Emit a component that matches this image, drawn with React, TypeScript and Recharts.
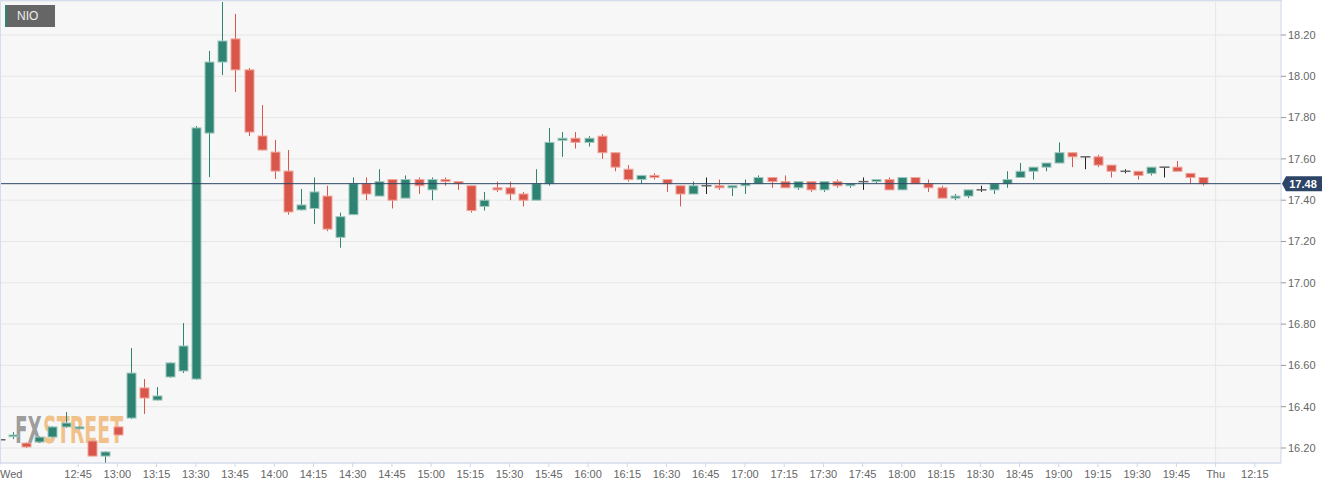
import { ComposedChart, Bar, XAxis, YAxis, CartesianGrid, ReferenceLine } from 'recharts'

// NIO 5-minute candles, Wed 12:15 -> 19:55 (one slot per candle)
const openP = [
  16.24, 16.255, 16.224, 16.229, 16.253, 16.302, 16.293, 16.234, 16.161, 16.302, 16.345, 16.491,
  16.432, 16.544, 16.573, 16.534, 17.725, 18.069, 18.181, 18.031, 17.711, 17.633, 17.541, 17.353,
  17.36, 17.42, 17.22, 17.33, 17.48, 17.42, 17.5, 17.41, 17.5, 17.45, 17.5, 17.49,
  17.47, 17.37, 17.46, 17.46, 17.43, 17.4, 17.48, 17.69, 17.7, 17.68, 17.71, 17.63,
  17.55, 17.5, 17.52, 17.5, 17.47, 17.43, 17.47, 17.47, 17.46, 17.47, 17.48, 17.51,
  17.49, 17.46, 17.49, 17.45, 17.49, 17.47, 17.49, 17.49, 17.5, 17.45, 17.51, 17.48,
  17.46, 17.41, 17.42, 17.45, 17.45, 17.48, 17.51, 17.54, 17.56, 17.58, 17.63, 17.61,
  17.61, 17.57, 17.54, 17.54, 17.53, 17.56, 17.56, 17.53, 17.51,
]
const highP = [
  16.245, 16.277, 16.226, 16.256, 16.305, 16.374, 16.305, 16.236, 16.185, 16.305, 16.684, 16.534,
  16.495, 16.615, 16.805, 17.759, 18.123, 18.36, 18.302, 18.04, 17.861, 17.692, 17.643, 17.454,
  17.51, 17.47, 17.34, 17.51, 17.51, 17.55, 17.5, 17.52, 17.51, 17.51, 17.51, 17.49,
  17.47, 17.44, 17.49, 17.49, 17.44, 17.55, 17.75, 17.73, 17.73, 17.71, 17.72, 17.63,
  17.57, 17.52, 17.53, 17.5, 17.47, 17.49, 17.51, 17.5, 17.47, 17.5, 17.52, 17.51,
  17.52, 17.49, 17.49, 17.49, 17.5, 17.48, 17.51, 17.5, 17.51, 17.51, 17.51, 17.5,
  17.47, 17.43, 17.45, 17.47, 17.48, 17.54, 17.58, 17.56, 17.58, 17.68, 17.63, 17.61,
  17.62, 17.57, 17.55, 17.54, 17.56, 17.56, 17.59, 17.53, 17.51,
]
const lowP = [
  16.235, 16.243, 16.2, 16.226, 16.25, 16.297, 16.29, 16.16, 16.127, 16.26, 16.34, 16.365,
  16.43, 16.54, 16.563, 16.53, 17.512, 18.006, 17.924, 17.711, 17.64, 17.503, 17.33, 17.35,
  17.285, 17.25, 17.17, 17.33, 17.4, 17.42, 17.36, 17.41, 17.43, 17.4, 17.47, 17.45,
  17.34, 17.35, 17.44, 17.4, 17.37, 17.4, 17.47, 17.61, 17.65, 17.66, 17.6, 17.54,
  17.49, 17.48, 17.5, 17.44, 17.37, 17.43, 17.43, 17.45, 17.42, 17.43, 17.48, 17.46,
  17.46, 17.45, 17.44, 17.44, 17.46, 17.46, 17.45, 17.48, 17.45, 17.45, 17.48, 17.44,
  17.41, 17.4, 17.41, 17.44, 17.43, 17.46, 17.51, 17.5, 17.54, 17.58, 17.56, 17.55,
  17.56, 17.51, 17.53, 17.5, 17.52, 17.51, 17.54, 17.48, 17.47,
]
const closeP = [
  16.24, 16.263, 16.205, 16.253, 16.302, 16.321, 16.302, 16.161, 16.181, 16.263, 16.563, 16.442,
  16.452, 16.612, 16.694, 17.75, 18.069, 18.171, 18.031, 17.73, 17.643, 17.541, 17.343, 17.377,
  17.44, 17.26, 17.32, 17.48, 17.43, 17.49, 17.4, 17.5, 17.47, 17.5, 17.49, 17.48,
  17.35, 17.4, 17.45, 17.43, 17.4, 17.48, 17.68, 17.7, 17.68, 17.7, 17.63, 17.56,
  17.5, 17.52, 17.51, 17.48, 17.43, 17.47, 17.47, 17.46, 17.47, 17.48, 17.51, 17.49,
  17.46, 17.49, 17.45, 17.49, 17.47, 17.48, 17.49, 17.5, 17.45, 17.51, 17.48, 17.46,
  17.41, 17.42, 17.45, 17.45, 17.48, 17.5, 17.54, 17.56, 17.58, 17.63, 17.61, 17.61,
  17.57, 17.54, 17.54, 17.52, 17.56, 17.56, 17.54, 17.51, 17.48,
]

const tickIdx = [0, 6, 9, 12, 15, 18, 21, 24, 27, 30, 33, 36, 39, 42, 45, 48, 51, 54, 57, 60, 63, 66, 69, 72, 75, 78, 81, 84, 87, 90, 93, 96]
const tickLabels = [
  'Wed', '12:45', '13:00', '13:15', '13:30', '13:45', '14:00', '14:15', '14:30', '14:45', '15:00',
  '15:15', '15:30', '15:45', '16:00', '16:15', '16:30', '16:45', '17:00', '17:15', '17:30', '17:45',
  '18:00', '18:15', '18:30', '18:45', '19:00', '19:15', '19:30', '19:45', 'Thu', '12:15',
]
const priceTicks = [16.2, 16.4, 16.6, 16.8, 17.0, 17.2, 17.4, 17.6, 17.8, 18.0, 18.2]
const lastPrice = 17.48
const dayBreak = 93

const UP = '#2f8372'
const DOWN = '#d8574a'
const FONT = '"Liberation Sans", Arial, sans-serif'
const MARK = '"DejaVu Sans", sans-serif'

const candles = openP.map((o, i) => ({
  i,
  o,
  h: highP[i],
  l: lowP[i],
  c: closeP[i],
  range: [lowP[i], highP[i]],
}))

function Candle(props: any) {
  const { x, y, width, height, payload } = props
  if (x == null || y == null) return null
  const { o, h, l, c } = payload
  const cx = Math.round(x + width / 2) + 0.5
  const top = Math.min(y, y + height)
  const bot = Math.max(y, y + height)
  const py = (v: number) => (h === l ? top : top + ((h - v) / (h - l)) * (bot - top))
  const doji = o === c
  const color = doji ? '#222' : c > o ? UP : DOWN
  const edge = doji ? '#777' : c > o ? '#9fc8be' : '#f0a59c'
  const bTop = py(Math.max(o, c))
  const bH = Math.max(1.5, py(Math.min(o, c)) - bTop)
  return (
    <g>
      <line x1={cx} x2={cx} y1={top} y2={bot} stroke={color} strokeWidth={1} />
      {doji ? (
        <rect x={cx - 5} y={bTop - 0.75} width={10} height={1.5} fill="#666" />
      ) : (
        <rect x={cx - 4.5} y={bTop} width={9} height={bH} fill={color} stroke={edge} strokeWidth={1} />
      )}
    </g>
  )
}

function TimeTick(props: any) {
  const { x, y, payload } = props
  const k = tickIdx.indexOf(payload.value)
  const first = payload.value === 0
  return (
    <text x={first ? 0 : x} y={y} dy="0.71em" textAnchor={first ? 'start' : 'middle'} fill="#666" fontSize={11} fontFamily={FONT}>
      {k >= 0 ? tickLabels[k] : ''}
    </text>
  )
}

function LastLabel(props: any) {
  const vb = props.viewBox || {}
  const r = vb.x + vb.width
  const y = vb.y
  return (
    <g>
      <path d={`M${r + 1},${y} L${r + 5},${y - 7.5} L${r + 41},${y - 7.5} L${r + 41},${y + 7.5} L${r + 5},${y + 7.5} Z`} fill="#2c4566" />
      <text x={r + 22} y={y} dy="0.36em" textAnchor="middle" fill="#fff" fontSize={11} fontWeight="bold" fontFamily={FONT}>
        {lastPrice.toFixed(2)}
      </text>
    </g>
  )
}

export default function App() {
  return (
    <div style={{ position: 'absolute', left: 0, top: 0, width: 1340, height: 489, background: '#fff', overflow: 'hidden' }}>
      {/* plot background, then the watermark, both behind the chart */}
      <div style={{ position: 'absolute', left: 1, top: 1, width: 1280, height: 462, background: '#f7f7f7' }} />
      <svg width={200} height={60} style={{ position: 'absolute', left: 0, top: 400 }}>
        <text transform="translate(15,43) scale(0.485,1)" fontSize={38} fontWeight="bold" fontFamily={MARK} fill="#8d8d8d" fillOpacity={0.85}>
          FX
        </text>
        <text transform="translate(43,43) scale(0.5,1)" fontSize={38} fontWeight="bold" fontFamily={MARK} fill="#f0b066" fillOpacity={0.75}>
          STREET
        </text>
      </svg>

      <div style={{ position: 'absolute', left: 0, top: 0 }}>
        <ComposedChart width={1340} height={489} data={candles} margin={{ top: 1, right: 0, left: 1, bottom: 0 }}>
          <CartesianGrid vertical={false} stroke="#e6e6e6" />
          <XAxis
            type="number"
            dataKey="i"
            domain={[0.1, 98]}
            allowDataOverflow
            ticks={tickIdx}
            interval={0}
            height={26}
            tickSize={4}
            tickMargin={3}
            tick={<TimeTick />}
            axisLine={{ stroke: '#ccd6eb' }}
            tickLine={{ stroke: '#ccd6eb' }}
          />
          <YAxis
            orientation="right"
            type="number"
            domain={[16.1274, 18.3646]}
            allowDataOverflow
            ticks={priceTicks}
            interval={0}
            width={59}
            tickSize={5}
            tickMargin={2}
            tickFormatter={(v: number) => v.toFixed(2)}
            tick={{ fill: '#666', fontSize: 11, fontFamily: FONT }}
            axisLine={{ stroke: '#ccd6eb' }}
            tickLine={{ stroke: '#999' }}
          />
          <ReferenceLine x={dayBreak} stroke="#e6e6e6" />
          <Bar dataKey="range" barSize={10} shape={<Candle />} isAnimationActive={false} />
          <ReferenceLine y={lastPrice} stroke="#2c4566" strokeWidth={1} label={<LastLabel />} />
        </ComposedChart>
      </div>

      {/* plot frame */}
      <div style={{ position: 'absolute', left: 0, top: 0, width: 1281, height: 463, border: '1px solid #d5ddee', borderRight: 'none', borderBottom: 'none', pointerEvents: 'none' }} />

      {/* series legend */}
      <div
        style={{
          position: 'absolute', left: 5, top: 5, width: 38, height: 22, background: '#666',
          borderLeft: '2px solid #2f8372', color: '#eee', fontFamily: FONT, fontSize: 12,
          lineHeight: '22px', paddingLeft: 10, boxSizing: 'content-box',
        }}
      >
        NIO
      </div>
    </div>
  )
}
